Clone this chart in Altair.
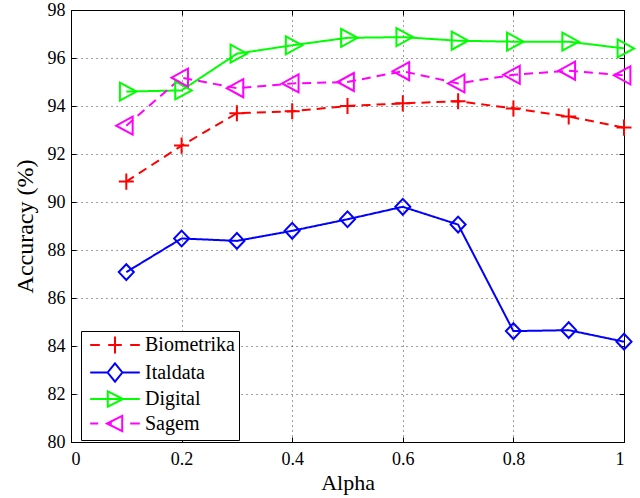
import altair as alt
import pandas as pd

alpha = [0.1, 0.2, 0.3, 0.4, 0.5, 0.6, 0.7, 0.8, 0.9, 1.0]
biometrika = [90.85, 92.35, 93.70, 93.78, 94.00, 94.11, 94.20, 93.90, 93.56, 93.10]
italdata = [87.08, 88.48, 88.38, 88.80, 89.28, 89.80, 89.06, 84.62, 84.66, 84.18]
digital = [94.60, 94.65, 96.18, 96.53, 96.84, 96.87, 96.72, 96.68, 96.68, 96.40]
sagem = [93.18, 95.18, 94.74, 94.94, 95.00, 95.45, 94.94, 95.30, 95.47, 95.28]

series_names = ["Biometrika", "Italdata", "Digital", "Sagem"]
series_values = [biometrika, italdata, digital, sagem]
colors = ["#ff0000", "#0000ff", "#00ff00", "#ff00ff"]
dashes = [[9, 6], [1, 0], [1, 0], [9, 6]]

x_ticks = [0, 0.2, 0.4, 0.6, 0.8, 1]
y_ticks = [80, 82, 84, 86, 88, 90, 92, 94, 96, 98]

# marker outlines used on the data points
marker_paths = [
    "M-1,0L1,0M0,-1.07L0,1.07",
    "M0,-1.05L1,0L0,1.05L-1,0Z",
    "M-0.85,-1.2L1.35,0L-0.85,1.2Z",
    "M0.85,-1.2L-1.35,0L0.85,1.2Z",
]
# legend glyphs: line sample with the marker in its middle
legend_paths = [
    "M-3.1,0L-1.9,0M1.9,0L3.1,0M-0.85,0L0.85,0M0,-1.05L0,1.05",
    "M-3.1,0L-0.92,0M0.92,0L3.1,0M0,-1.15L0.92,0L0,1.15L-0.92,0Z",
    "M-3.1,0L-0.9,0M1,0L3.1,0M-0.9,0L1,0M-0.9,-0.95L1,0L-0.9,0.95Z",
    "M-3.1,0L-2.1,0M1.9,0L3.1,0M-1.1,0L-0.4,0M0.9,-0.95L-1,0L0.9,0.95Z",
]

rows = []
for name, vals in zip(series_names, series_values):
    for a, v in zip(alpha, vals):
        rows.append({"alpha": a, "value": v, "series": name, "entry": name})
df = pd.DataFrame(rows)

W, H = 553, 432
FONT = "Liberation Serif"

xscale = alt.Scale(domain=[0, 1], nice=False, zero=False)
yscale = alt.Scale(domain=[80, 98], nice=False, zero=False)
cscale = alt.Scale(domain=series_names, range=colors)

tick_common = dict(labels=False, ticks=True, tickSize=5, tickColor="#000",
                   tickWidth=1, domain=False, grid=False, title=None)

base = alt.Chart(df)

lines = base.mark_line(strokeWidth=2, strokeCap="butt").encode(
    x=alt.X("alpha:Q", scale=xscale, axis=alt.Axis(
        orient="bottom", values=x_ticks, format="~g", grid=True,
        gridDash=[1, 4], gridColor="#000", gridOpacity=0.75, gridWidth=1,
        ticks=False, domain=False, labelFont=FONT, labelFontSize=18,
        labelColor="#000", labelPadding=8, title="Alpha", titleFont=FONT,
        titleFontSize=22, titleFontWeight="normal", titleColor="#000",
        titlePadding=4)),
    y=alt.Y("value:Q", scale=yscale, axis=alt.Axis(
        orient="left", values=y_ticks, grid=True, gridDash=[1, 4],
        gridColor="#000", gridOpacity=0.75, gridWidth=1, ticks=False,
        domain=False, labelFont=FONT, labelFontSize=18, labelColor="#000",
        labelPadding=6, title="Accuracy (%)", titleFont=FONT,
        titleFontSize=24, titleFontWeight="normal", titleColor="#000",
        titlePadding=10)),
    color=alt.Color("series:N", scale=cscale, legend=None),
    strokeDash=alt.StrokeDash("series:N", scale=alt.Scale(domain=series_names, range=dashes), legend=None),
)

points = base.mark_point(filled=False, strokeWidth=2, size=225, opacity=1).encode(
    x=alt.X("alpha:Q", scale=xscale, axis=alt.Axis(orient="top", offset=-H, values=x_ticks, **tick_common)),
    y=alt.Y("value:Q", scale=yscale, axis=alt.Axis(orient="right", offset=-W, values=y_ticks, **tick_common)),
    color=alt.Color("series:N", scale=cscale, legend=None),
    shape=alt.Shape("series:N", scale=alt.Scale(domain=series_names, range=marker_paths), legend=None),
)

leg = alt.Legend(
    title=None, orient="none", legendX=10, legendY=321, padding=4,
    rowPadding=0.5, symbolSize=256, symbolStrokeWidth=2, symbolOpacity=1,
    symbolOffset=20, labelOffset=20,
    labelFont=FONT, labelFontSize=20, labelColor="#000",
    strokeColor="#000", fillColor="#fff",
)

legend_layer = base.mark_point(filled=False, strokeWidth=2, size=256, opacity=0).encode(
    x=alt.X("alpha:Q", scale=xscale, axis=alt.Axis(orient="bottom", offset=-H, values=x_ticks, **tick_common)),
    y=alt.Y("value:Q", scale=yscale, axis=alt.Axis(orient="left", offset=-W, values=y_ticks, **tick_common)),
    color=alt.Color("entry:N", scale=cscale, legend=leg),
    shape=alt.Shape("entry:N", scale=alt.Scale(domain=series_names, range=legend_paths), legend=leg),
)

chart = alt.layer(lines, points, legend_layer).resolve_scale(
    color="independent", shape="independent", strokeDash="independent"
).resolve_axis(x="independent", y="independent").properties(
    width=W, height=H, autosize="none",
    padding={"left": 71, "top": 10, "right": 16, "bottom": 56},
).configure_view(stroke="#000", strokeWidth=1)

chart.save("out.html", embed_options={"renderer": "svg", "actions": False})
